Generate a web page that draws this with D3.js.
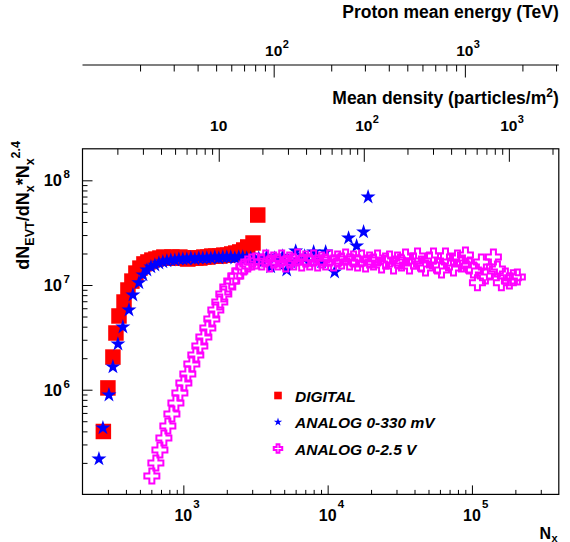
<!DOCTYPE html>
<html>
<head>
<meta charset="utf-8">
<script src="https://cdn.jsdelivr.net/npm/d3@7"></script>
<style>
  body { margin: 0; background: #fff; }
  svg { display: block; font-family: "Liberation Sans", Arial, Helvetica, sans-serif; }
</style>
</head>
<body>
<div id="chart"></div>
<script>
// ---- data ----
var digitalNx = [279, 300, 325, 341, 358, 388, 413, 440, 469, 500, 533, 568, 605, 645, 688, 733, 781, 833, 888, 946,
    1008, 1074, 1145, 1220, 1301, 1387, 1478, 1575, 1679, 1789, 1907, 2032, 2165, 2308, 2460, 2622, 2795, 3040, 3278];
var digitalY = [3.99e5, 1.04e6, 2.05e6, 3.48e6, 5.06e6, 6.88e6, 8.96e6, 1.09e7, 1.30e7, 1.45e7, 1.59e7, 1.66e7, 1.73e7, 1.77e7, 1.81e7, 1.85e7, 1.81e7, 1.85e7, 1.81e7, 1.85e7,
    1.81e7, 1.77e7, 1.81e7, 1.81e7, 1.81e7, 1.85e7, 1.85e7, 1.89e7, 1.89e7, 1.89e7, 1.93e7, 1.93e7, 1.98e7, 2.02e7, 2.07e7, 2.16e7, 2.31e7, 2.52e7, 4.66e7];

var analog330Nx = [260, 277, 305, 325, 352, 381, 420, 447, 492, 525, 559, 596, 635, 677, 721, 769, 819, 873, 931, 992,
    1057, 1127, 1201, 1280, 1364, 1454, 1550, 1652, 1761, 1877, 2000, 2131, 2272, 2422, 2581, 2750, 2932, 3125, 3331, 3550,
    3784, 4032, 4298, 4581, 4883, 5204, 5545, 6006, 6401, 6931, 7389, 8000, 8527, 9088, 9687, 11180, 13970, 15880, 17750, 19070];
var analog330Y = [2.18e5, 4.31e5, 8.9e5, 1.65e6, 2.73e6, 3.97e6, 5.77e6, 8.03e6, 1.05e7, 1.25e7, 1.39e7, 1.49e7, 1.55e7, 1.62e7, 1.66e7, 1.70e7, 1.73e7, 1.73e7, 1.77e7, 1.77e7,
    1.77e7, 1.81e7, 1.77e7, 1.81e7, 1.81e7, 1.81e7, 1.81e7, 1.85e7, 1.81e7, 1.85e7, 1.85e7, 1.85e7, 1.81e7, 1.85e7, 1.85e7, 1.81e7, 1.81e7, 1.77e7, 1.81e7, 1.66e7,
    1.89e7, 1.49e7, 1.81e7, 1.66e7, 1.89e7, 1.39e7, 1.66e7, 2.11e7, 1.73e7, 1.89e7, 1.66e7, 2.07e7, 1.81e7, 1.66e7, 2.07e7, 1.33e7, 2.81e7, 2.36e7, 3.21e7, 6.93e7];

var analog25Nx = [605, 645, 688, 733, 781, 833, 888, 946, 1008, 1074, 1145, 1220, 1301, 1387, 1478, 1575, 1679, 1789, 1907, 2032,
    2165, 2308, 2460, 2622, 2795, 2979, 3175,
    3494, 3724, 3968, 4229, 4508, 4805, 5121, 5458, 5818, 6201, 6610, 7045, 7508, 8000, 8527, 9088, 9687, 10320, 11000, 11730,
    12500, 13320, 14200, 15130, 16130, 17190, 18320, 19530, 20810, 22180, 23640, 25200, 26860, 28620, 30510, 32520, 34660, 36940, 39380, 41970,
    44730, 47680, 50820, 54160, 57720, 61520, 65570, 69890, 74490, 79390, 84610, 90190, 96100, 102400, 109200, 116300, 124000, 132200, 140900, 150200,
    160000, 170500, 181800, 193700, 206500];
var analog25Y = [1.50e5, 2.00e5, 2.66e5, 3.46e5, 4.50e5, 5.86e5, 7.46e5, 9.30e5, 1.16e6, 1.41e6, 1.76e6, 2.15e6, 2.62e6, 3.19e6, 3.89e6, 4.73e6, 5.77e6, 6.88e6, 8.20e6, 9.57e6,
    1.09e7, 1.22e7, 1.36e7, 1.49e7, 1.59e7, 1.66e7, 1.70e7,
    1.66e7, 1.81e7, 1.59e7, 1.73e7, 1.66e7, 1.81e7, 1.59e7, 1.73e7, 1.66e7, 1.85e7, 1.62e7, 1.77e7, 1.66e7, 1.81e7, 1.62e7, 1.73e7, 1.66e7, 1.81e7, 1.62e7, 1.77e7,
    1.70e7, 1.85e7, 1.66e7, 1.77e7, 1.62e7, 1.81e7, 1.59e7, 1.73e7, 1.66e7, 1.81e7, 1.55e7, 1.70e7, 1.77e7, 1.52e7, 1.73e7, 1.62e7, 1.85e7, 1.52e7, 1.70e7, 1.89e7,
    1.59e7, 1.45e7, 1.73e7, 1.89e7, 1.52e7, 1.39e7, 1.89e7, 1.66e7, 1.45e7, 1.81e7, 1.59e7, 1.93e7, 1.52e7, 1.39e7, 1.05e7, 1.66e7, 1.22e7, 1.33e7, 1.85e7, 1.42e7,
    1.05e7, 1.22e7, 1.09e7, 1.17e7, 1.19e7];

var legendLabels = ['DIGITAL', 'ANALOG 0-330 mV', 'ANALOG 0-2.5 V'];

// major ticks (labelled as 10^n)
var xMajors = [1e3, 1e4, 1e5];
var yMajors = [1e6, 1e7, 1e8];
var densityMajors = [10, 100, 1000];
var protonMajors = [100, 1000];

// ---- layout ----
var W = 570, H = 542;
var fLeft = 82.5, fRight = 558.8, fTop = 148.8, fBottom = 494.4;
var protonY = 65;

var svg = d3.select('#chart').append('svg').attr('width', W).attr('height', H);

var x = d3.scaleLog().domain([200, 4e5]).range([fLeft, fRight]);
var y = d3.scaleLog().domain([1e5, 2e8]).range([fBottom, fTop]);
var dens = d3.scaleLog().domain([1.15, 2210]).range([fLeft, fRight]);
var prot = d3.scaleLog().domain([10, 3100]).range([fLeft, fRight]);

function minors(scale) {
    var d = scale.domain(), out = [];
    for (var e = Math.floor(Math.log10(d[0])); e <= Math.ceil(Math.log10(d[1])); e++) {
        for (var k = 2; k <= 9; k++) {
            var v = k * Math.pow(10, e);
            if (v > d[0] && v < d[1]) out.push(v);
        }
    }
    return out;
}

// draws minor + major ticks with d3 axes, no labels, no domain line
function ticks(g, axisFn, scale, majors, majLen, minLen) {
    [[minors(scale), minLen], [majors, majLen]].forEach(function (p) {
        g.append('g')
            .call(axisFn(scale).tickValues(p[0]).tickSizeInner(p[1]).tickSizeOuter(0).tickFormat(''))
            .call(function (a) { a.select('.domain').remove(); })
            .selectAll('line').attr('stroke', '#000').attr('stroke-width', 1);
    });
}

// "10" + exponent label
function powLabel(px, py, exp, size, supSize, anchor, supDx, supDy) {
    svg.append('text').attr('x', px).attr('y', py)
        .attr('text-anchor', anchor)
        .style('font-size', size + 'px').style('font-weight', 'bold').text('10');
    if (exp !== null) {
        svg.append('text').attr('x', px + supDx).attr('y', py + supDy)
            .style('font-size', supSize + 'px').style('font-weight', 'bold').text(exp);
    }
}

// frame
svg.append('rect').attr('x', fLeft).attr('y', fTop)
    .attr('width', fRight - fLeft).attr('height', fBottom - fTop)
    .attr('fill', 'none').attr('stroke', '#000').attr('stroke-width', 1.2);

// bottom axis (ticks inward)
ticks(svg.append('g').attr('transform', 'translate(0,' + fBottom + ')'), d3.axisBottom, x, xMajors, -9, -4.5);
xMajors.forEach(function (v) {
    powLabel(x(v), 521, String(Math.round(Math.log10(v))), 16, 11.5, 'middle', 10, -13);
});

// left axis (ticks inward)
ticks(svg.append('g').attr('transform', 'translate(' + fLeft + ',0)'), d3.axisLeft, y, yMajors, -10, -5);
yMajors.forEach(function (v) {
    powLabel(62, y(v) + 6, String(Math.round(Math.log10(v))), 16.5, 11.5, 'end', 1.5, -8);
});

// top: mean density axis on the frame top
ticks(svg.append('g').attr('transform', 'translate(0,' + fTop + ')'), d3.axisTop, dens, densityMajors, -13, -6);
densityMajors.forEach(function (v) {
    var e = Math.round(Math.log10(v));
    powLabel(dens(v), 130.5, e === 1 ? null : String(e), 15.5, 11, 'middle', 9, -8);
});
svg.append('text').attr('x', fRight).attr('y', 104).attr('text-anchor', 'end')
    .style('font-size', '17.5px').style('font-weight', 'bold')
    .call(function (t) {
        t.append('tspan').text('Mean density (particles/m');
        t.append('tspan').attr('dy', -7).style('font-size', '12px').text('2');
        t.append('tspan').attr('dy', 7).text(')');
    });

// top: proton mean energy axis
var pg = svg.append('g').attr('transform', 'translate(0,' + protonY + ')');
pg.append('line').attr('x1', fLeft).attr('x2', fRight).attr('stroke', '#000').attr('stroke-width', 1.2);
ticks(pg, d3.axisBottom, prot, protonMajors, 12.5, 6.5);
protonMajors.forEach(function (v) {
    powLabel(prot(v), 56, String(Math.round(Math.log10(v))), 15.5, 11, 'middle', 9, -8);
});
svg.append('text').attr('x', fRight).attr('y', 18).attr('text-anchor', 'end')
    .style('font-size', '17.5px').style('font-weight', 'bold')
    .text('Proton mean energy (TeV)');

// axis titles
svg.append('text').attr('transform', 'translate(29,141) rotate(-90)').attr('text-anchor', 'end')
    .style('font-size', '18px').style('font-weight', 'bold')
    .call(function (t) {
        t.append('tspan').text('dN');
        t.append('tspan').attr('dy', 5).style('font-size', '12.5px').text('EVT');
        t.append('tspan').attr('dy', -5).text('/dN');
        t.append('tspan').attr('dy', 5).style('font-size', '12.5px').text('x');
        t.append('tspan').attr('dy', -5).text('*N');
        t.append('tspan').attr('dy', 5).style('font-size', '12.5px').text('x');
        t.append('tspan').attr('dy', -14).style('font-size', '12.5px').text('2.4');
    });
svg.append('text').attr('x', 551).attr('y', 539).attr('text-anchor', 'end')
    .style('font-size', '16px').style('font-weight', 'bold').text('N');
svg.append('text').attr('x', 551.5).attr('y', 541.5)
    .style('font-size', '11px').style('font-weight', 'bold').text('x');

// ---- markers ----
var plot = svg.append('g');
var squareSym = d3.symbol(d3.symbolSquare, 240);
var starSym = d3.symbol(d3.symbolStar, 70);
var crossSym = d3.symbol(d3.symbolCross, 125);

plot.append('g').selectAll('path')
    .data(d3.zip(digitalNx, digitalY)).enter().append('path')
    .attr('d', squareSym)
    .attr('transform', function (d) { return 'translate(' + x(d[0]) + ',' + y(d[1]) + ')'; })
    .attr('fill', '#ff0000');

plot.append('g').selectAll('path')
    .data(d3.zip(analog330Nx, analog330Y)).enter().append('path')
    .attr('d', starSym)
    .attr('transform', function (d) { return 'translate(' + x(d[0]) + ',' + y(d[1]) + ')'; })
    .attr('fill', '#0000ff');

plot.append('g').selectAll('path')
    .data(d3.zip(analog25Nx, analog25Y)).enter().append('path')
    .attr('d', crossSym)
    .attr('transform', function (d) { return 'translate(' + x(d[0]) + ',' + y(d[1]) + ')'; })
    .attr('fill', 'none').attr('stroke', '#ff00ff').attr('stroke-width', 2);

// ---- legend ----
var legendSyms = [
    { sym: d3.symbol(d3.symbolSquare, 58), fill: '#ff0000', stroke: 'none' },
    { sym: d3.symbol(d3.symbolStar, 22), fill: '#0000ff', stroke: 'none' },
    { sym: d3.symbol(d3.symbolCross, 40), fill: 'none', stroke: '#ff00ff' }
];
var legendY = [395.5, 422, 448.5];
legendLabels.forEach(function (lab, i) {
    svg.append('path').attr('d', legendSyms[i].sym)
        .attr('transform', 'translate(278,' + legendY[i] + ')')
        .attr('fill', legendSyms[i].fill).attr('stroke', legendSyms[i].stroke).attr('stroke-width', 2);
    svg.append('text').attr('x', 295).attr('y', legendY[i] + 6)
        .style('font-size', '15.5px').style('font-weight', 'bold').style('font-style', 'italic')
        .text(lab);
});
</script>
</body>
</html>
